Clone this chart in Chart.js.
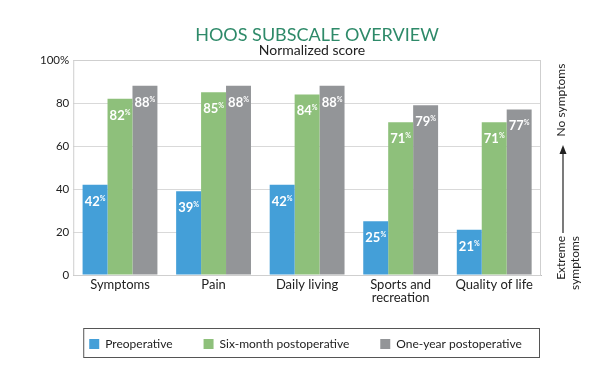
<!DOCTYPE html>
<html>
<head>
<meta charset="utf-8">
<script src="https://cdn.jsdelivr.net/npm/chart.js@4.4.1/dist/chart.umd.min.js"></script>
<style>
  html, body { margin: 0; padding: 0; background: #fff; }
  #wrap { position: relative; width: 600px; height: 370px; }
</style>
</head>
<body>
<div id="wrap"><canvas id="myChart"></canvas></div>
<script>
"use strict";

// data
var categories = ["Symptoms", "Pain", "Daily living", ["Sports and", "recreation"], "Quality of life"];
var seriesNames = ["Preoperative", "Six-month postoperative", "One-year postoperative"];
var preoperative = [42, 39, 42, 25, 21];
var sixMonth = [82, 85, 84, 71, 71];
var oneYear = [88, 88, 88, 79, 77];
var yTicks = [0, 20, 40, 60, 80, 100];

var colors = ["#449fd8", "#8ec07b", "#939598"];
var fontFamily = "Lato, 'Open Sans', sans-serif";

// white value labels just under the top of each bar, with a small raised %
var valueLabels = {
  id: "valueLabels",
  afterDatasetsDraw: function (chart) {
    var ctx = chart.ctx;
    ctx.save();
    ctx.fillStyle = "#ffffff";
    ctx.textBaseline = "alphabetic";
    chart.data.datasets.forEach(function (ds, i) {
      var meta = chart.getDatasetMeta(i);
      meta.data.forEach(function (bar, j) {
        var num = String(ds.data[j]);
        ctx.font = "bold 13px " + fontFamily;
        var w1 = ctx.measureText(num).width;
        ctx.font = "bold 7px " + fontFamily;
        var w2 = ctx.measureText("%").width;
        var x0 = bar.x - (w1 + w2) / 2;
        var yb = bar.y + 21;
        ctx.font = "bold 13px " + fontFamily;
        ctx.textAlign = "left";
        ctx.fillText(num, x0, yb);
        ctx.font = "bold 7px " + fontFamily;
        ctx.fillText("%", x0 + w1, yb - 5);
      });
    });
    ctx.restore();
  }
};

// title, border round the plot, right-hand note with arrow, box round legend
var decorations = {
  id: "decorations",
  afterLayout: function (chart) {
    // the legend sits a little right of the canvas centre in the original
    chart.legend.left += 17;
    chart.legend.right += 17;
  },
  afterDraw: function (chart) {
    var ctx = chart.ctx;
    var area = chart.chartArea;
    ctx.save();

    // titles
    ctx.textAlign = "center";
    ctx.textBaseline = "alphabetic";
    ctx.fillStyle = "#2e8a69";
    ctx.font = "18px " + fontFamily;
    ctx.fillText("HOOS SUBSCALE OVERVIEW", 317, 41);
    ctx.fillStyle = "#222222";
    ctx.font = "14px " + fontFamily;
    ctx.fillText("Normalized score", 312, 55);

    // plot border
    ctx.strokeStyle = "#cfcfcf";
    ctx.lineWidth = 1;
    ctx.strokeRect(area.left + 0.5, area.top + 0.5, area.right - area.left - 1, area.bottom - area.top);

    // right-hand note
    var ax = area.right + 22;
    ctx.fillStyle = "#222222";
    ctx.font = "12px " + fontFamily;
    ctx.save();
    ctx.translate(area.right + 24, area.top + 40);
    ctx.rotate(-Math.PI / 2);
    ctx.textAlign = "center";
    ctx.fillText("No symptoms", 0, 0);
    ctx.restore();

    ctx.save();
    ctx.translate(area.right + 24, area.bottom - 39);
    ctx.rotate(-Math.PI / 2);
    ctx.textAlign = "right";
    ctx.fillText("Extreme", 0, 0);
    ctx.fillText("symptoms", 0, 14);
    ctx.restore();

    ctx.strokeStyle = "#222222";
    ctx.lineWidth = 1.2;
    ctx.beginPath();
    ctx.moveTo(ax, area.bottom - 42);
    ctx.lineTo(ax, area.top + 90);
    ctx.stroke();
    ctx.beginPath();
    ctx.moveTo(ax, area.top + 85);
    ctx.lineTo(ax - 3.5, area.top + 94);
    ctx.lineTo(ax + 3.5, area.top + 94);
    ctx.closePath();
    ctx.fill();

    // legend box
    var boxes = chart.legend.legendHitBoxes;
    if (boxes && boxes.length) {
      var cy = boxes[0].top + boxes[0].height / 2;
      ctx.strokeStyle = "#555555";
      ctx.lineWidth = 1;
      ctx.strokeRect(area.left + 10.5, Math.round(cy - 16) + 0.5, area.right - area.left - 12, 29);
    }
    ctx.restore();
  }
};

var ctx = document.getElementById("myChart").getContext("2d");
var myChart = new Chart(ctx, {
  type: "bar",
  data: {
    labels: categories,
    datasets: [
      { label: seriesNames[0], data: preoperative, backgroundColor: colors[0] },
      { label: seriesNames[1], data: sixMonth, backgroundColor: colors[1] },
      { label: seriesNames[2], data: oneYear, backgroundColor: colors[2] }
    ]
  },
  options: {
    responsive: true,
    maintainAspectRatio: false,
    animation: false,
    layout: { padding: { top: 60, left: 36, right: 59, bottom: 10 } },
    datasets: { bar: { categoryPercentage: 0.8, barPercentage: 1.0 } },
    scales: {
      x: {
        grid: { display: false, drawTicks: false },
        border: { color: "#bdbdbd" },
        afterFit: function (axis) { axis.height = 32; },
        ticks: { color: "#222222", font: { family: fontFamily, size: 13, lineHeight: 1.0 }, padding: 3, maxRotation: 0, autoSkip: false }
      },
      y: {
        min: 0,
        max: 100,
        afterBuildTicks: function (axis) {
          axis.ticks = yTicks.map(function (v) { return { value: v }; });
        },
        grid: { color: "#d9d9d9", drawTicks: false },
        border: { display: false },
        ticks: {
          color: "#222222",
          padding: 4,
          font: { family: fontFamily, size: 11.5 },
          callback: function (v) { return v === 100 ? "100%" : v; }
        }
      }
    },
    plugins: {
      title: { display: false },
      tooltip: { enabled: false },
      legend: {
        position: "bottom",
        labels: {
          color: "#222222",
          font: { family: fontFamily, size: 12 },
          boxWidth: 10,
          boxHeight: 10,
          padding: 31
        }
      }
    }
  },
  plugins: [valueLabels, decorations]
});
</script>
</body>
</html>
